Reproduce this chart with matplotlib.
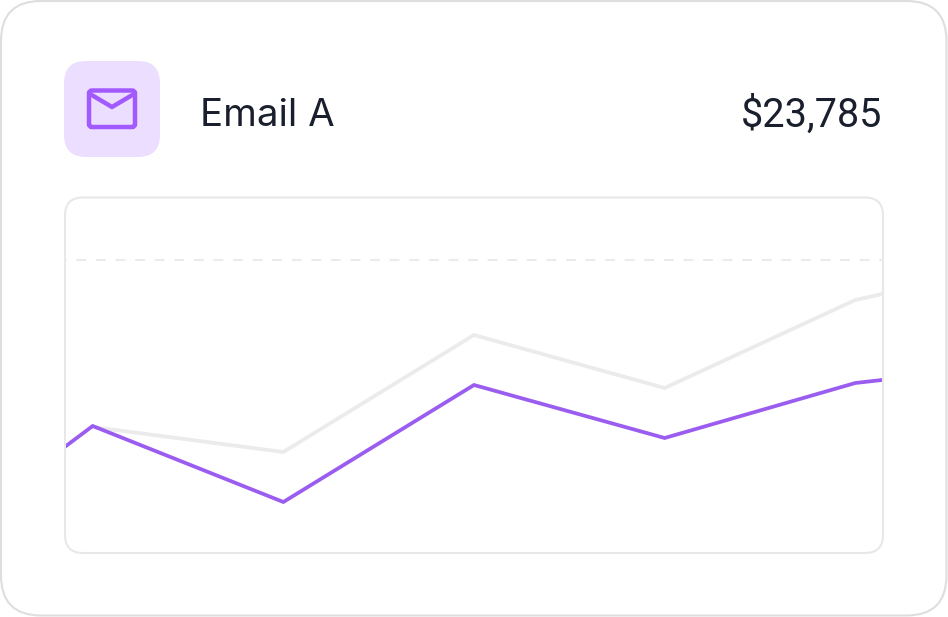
import matplotlib
matplotlib.use('Agg')
import matplotlib.pyplot as plt
from matplotlib.patches import FancyBboxPatch

plt.rcParams['font.family'] = ['Inter', 'DejaVu Sans']

# Data (index 0 to 4 are the visible periods)
periods = [-0.14, 0, 1, 2, 3, 4, 4.14]
email_a = [107, 127, 51, 168, 115, 170, 173]
baseline = [None, 126, 101, 218, 165, 253, 259]
target = 293
title = 'Email A'
amount = '$23,785'

COLOR_PURPLE = '#9b5cf0'
COLOR_ICON = '#a259ff'
COLOR_ICON_BG = '#ecdeff'
COLOR_GRAY = '#ebebeb'
COLOR_BORDER = '#dedede'
COLOR_PANEL = '#e8e8e8'
COLOR_TEXT = '#1a1f2e'

W, H = 948, 617


def rounded(ax, x0, y0, x1, y1, r, **kw):
    patch = FancyBboxPatch((x0 + r, y0 + r), x1 - x0 - 2 * r, y1 - y0 - 2 * r,
                           boxstyle=f'round,pad={r},rounding_size={r}', **kw)
    ax.add_patch(patch)
    return patch


fig = plt.figure(figsize=(W / 100, H / 100), dpi=100, facecolor='white')

# Pixel canvas for the card, icon and texts
bg = fig.add_axes([0, 0, 1, 1])
bg.set_xlim(0, W)
bg.set_ylim(H, 0)
bg.axis('off')

rounded(bg, 1, 1, 946.5, 615.5, 40, facecolor='white', edgecolor=COLOR_BORDER, linewidth=1.5)
rounded(bg, 64, 61, 160, 157, 22, facecolor=COLOR_ICON_BG, edgecolor='none')

# Envelope icon
rounded(bg, 89, 90.5, 135, 127, 3, facecolor='none', edgecolor=COLOR_ICON, linewidth=3.2)
bg.plot([90, 112, 134], [94, 107, 94], color=COLOR_ICON, lw=3.2,
        solid_joinstyle='round', solid_capstyle='round')

bg.text(200, 112, title, fontsize=27.7, color=COLOR_TEXT, va='center_baseline', ha='left')
bg.text(882, 111, amount, fontsize=28.5, color=COLOR_TEXT, va='center_baseline', ha='right',
        family=['Roboto', 'DejaVu Sans'])

rounded(bg, 65, 197.5, 883, 553, 18, facecolor='white', edgecolor=COLOR_PANEL, linewidth=1.5)

# Chart panel
ax = fig.add_axes([66 / W, 1 - 553 / H, (882 - 66) / W, 356 / H])
ax.patch.set_alpha(0)
ax.set_xlim(-0.14, 4.14)
ax.set_ylim(0, 356)
ax.axis('off')

ax.axhline(target, color=COLOR_GRAY, lw=1.5, linestyle=(4.4, (4.7, 4.7)))
ax.plot(periods[1:], baseline[1:], color=COLOR_GRAY, lw=2.7, solid_joinstyle='miter')
ax.plot(periods, email_a, color=COLOR_PURPLE, lw=2.7, solid_joinstyle='miter')

fig.savefig('out.png', dpi=100)
